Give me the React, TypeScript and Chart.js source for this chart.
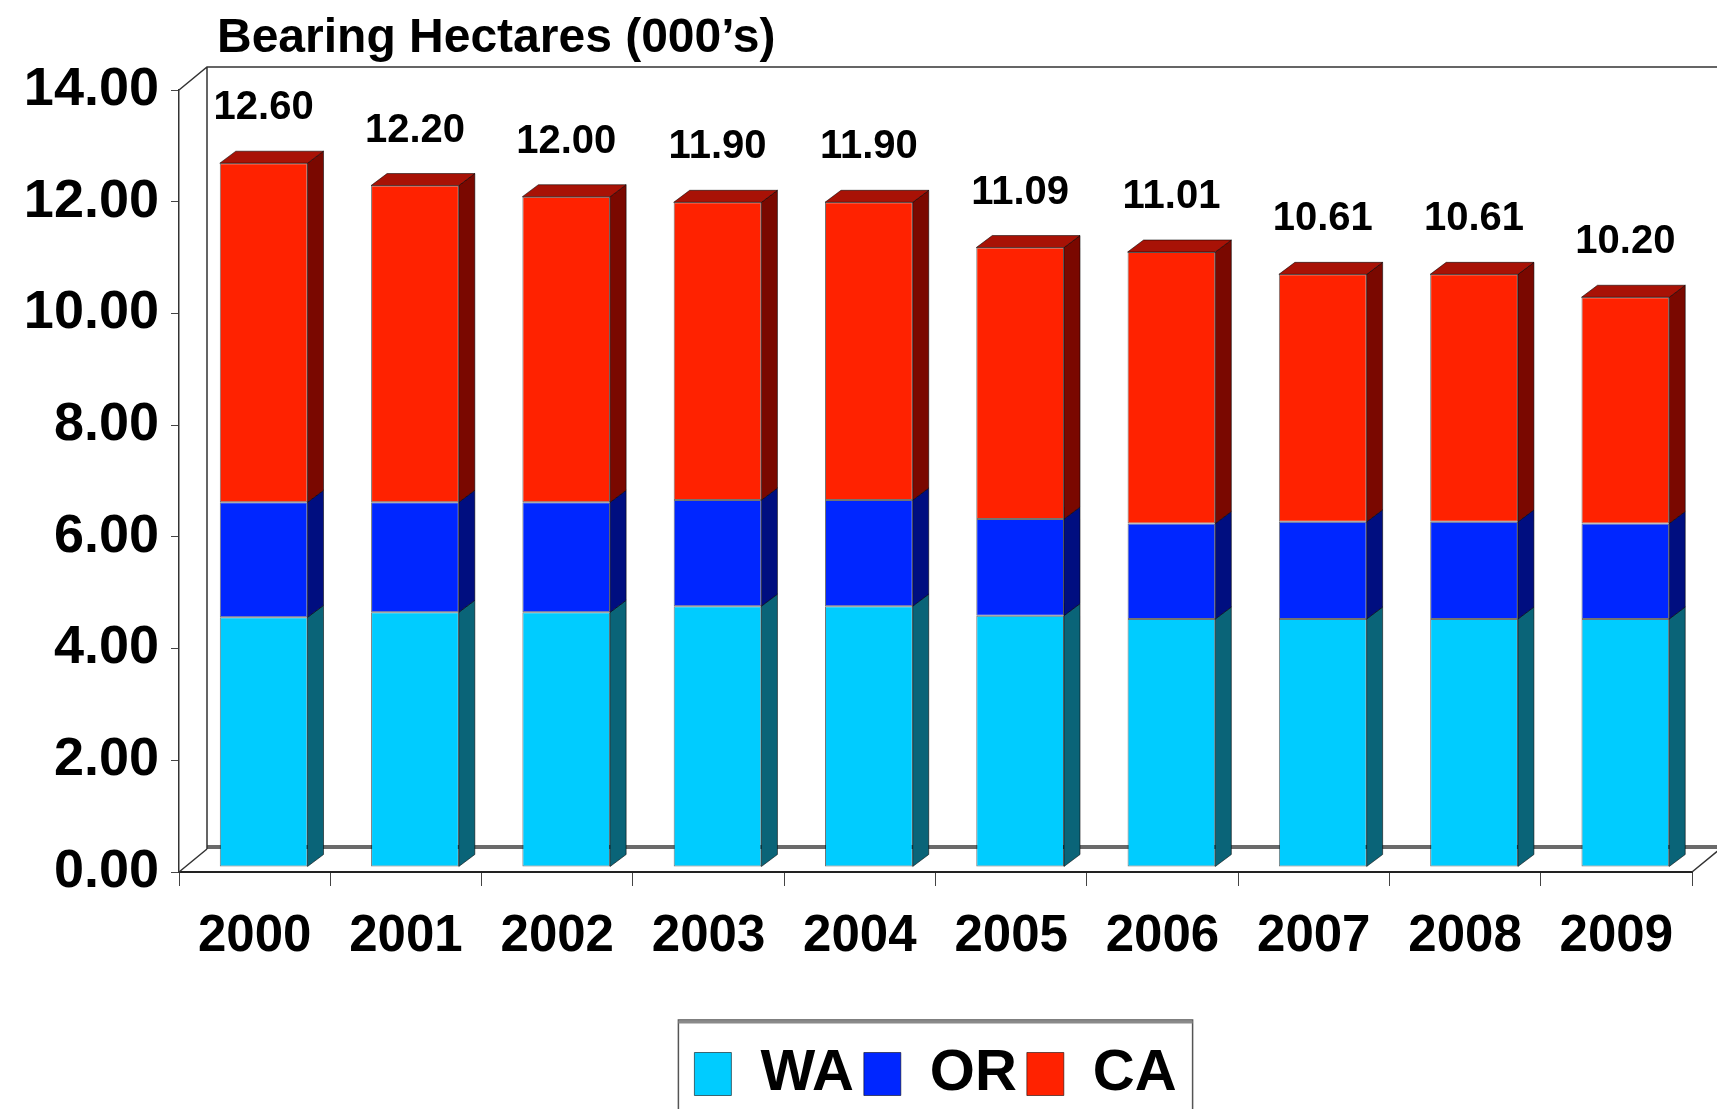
import React, { useEffect, useRef } from "react";
import { Chart, registerables } from "chart.js";

Chart.register(...registerables);

// ---- data ----
const YEARS = ["2000", "2001", "2002", "2003", "2004", "2005", "2006", "2007", "2008", "2009"];
const WA = [4.47, 4.56, 4.56, 4.67, 4.67, 4.5, 4.44, 4.44, 4.44, 4.44];
const OR = [2.06, 1.97, 1.97, 1.9, 1.9, 1.73, 1.71, 1.74, 1.74, 1.71];
const CA = [6.07, 5.67, 5.47, 5.33, 5.33, 4.86, 4.86, 4.43, 4.43, 4.05];
const Y_MIN = 0;
const Y_MAX = 14;
const Y_STEP = 2;
const TITLE = "Bearing Hectares (000\u2019s)";

const W = 1717;
const H_CANVAS = 1113;
const SANS = "'Liberation Sans', Arial, sans-serif";

const FRONT = ["#00CCFF", "#0026FF", "#FF2200"];
const SIDE = ["#0A6478", "#000E80", "#7A0800"];
const TOP = ["#0FA0C8", "#0018B0", "#A81206"];

const DX = 16, DY = -12; // bar depth
const SHIFT_X = 9, SHIFT_Y = -5; // bars sit inside the floor depth
const BACK_DX = 28, BACK_DY = -23; // back wall offset

const frame3d = {
  id: "frame3d",
  beforeDatasetsDraw(chart: any) {
    const { ctx, chartArea: a } = chart;
    ctx.save();
    ctx.strokeStyle = "#6a6a6a";
    ctx.lineWidth = 4;
    ctx.beginPath();
    ctx.moveTo(a.left + BACK_DX, a.bottom + BACK_DY - 2);
    ctx.lineTo(a.right + BACK_DX, a.bottom + BACK_DY - 2);
    ctx.stroke();
    ctx.strokeStyle = "#333";
    ctx.lineWidth = 1.5;
    ctx.beginPath();
    ctx.moveTo(a.left, a.top);
    ctx.lineTo(a.left + BACK_DX, a.top + BACK_DY);
    ctx.lineTo(W + 5, a.top + BACK_DY);
    ctx.moveTo(a.left + BACK_DX, a.top + BACK_DY);
    ctx.lineTo(a.left + BACK_DX, a.bottom + BACK_DY);
    ctx.moveTo(a.left, a.bottom);
    ctx.lineTo(a.left + BACK_DX, a.bottom + BACK_DY);
    ctx.moveTo(a.right, a.bottom);
    ctx.lineTo(a.right + BACK_DX, a.bottom + BACK_DY);
    ctx.stroke();
    ctx.restore();
    ctx.save();
    ctx.translate(SHIFT_X, SHIFT_Y);
  },
  afterDatasetsDraw(chart: any) {
    const { ctx } = chart;
    const n = chart.data.labels.length;
    const nds = chart.data.datasets.length;
    ctx.lineWidth = 1;
    ctx.strokeStyle = "rgba(0,0,0,0.55)";
    for (let d = 0; d < nds; d++) {
      const meta = chart.getDatasetMeta(d);
      meta.data.forEach((el: any) => {
        const { x, y, base, width } = el.getProps(["x", "y", "base", "width"], true);
        const r = x + width / 2;
        const l = x - width / 2;
        ctx.fillStyle = SIDE[d];
        ctx.beginPath();
        ctx.moveTo(r, base);
        ctx.lineTo(r, y);
        ctx.lineTo(r + DX, y + DY);
        ctx.lineTo(r + DX, base + DY);
        ctx.closePath();
        ctx.fill();
        ctx.stroke();
        if (d === nds - 1) {
          ctx.fillStyle = TOP[d];
          ctx.beginPath();
          ctx.moveTo(l, y);
          ctx.lineTo(l + DX, y + DY);
          ctx.lineTo(r + DX, y + DY);
          ctx.lineTo(r, y);
          ctx.closePath();
          ctx.fill();
          ctx.stroke();
        }
      });
    }
    const topMeta = chart.getDatasetMeta(nds - 1);
    ctx.fillStyle = "#000";
    ctx.font = `bold 40px ${SANS}`;
    ctx.textAlign = "center";
    ctx.textBaseline = "middle";
    for (let i = 0; i < n; i++) {
      let total = 0;
      chart.data.datasets.forEach((ds: any) => (total += ds.data[i]));
      const el = topMeta.data[i];
      const { x, y } = el.getProps(["x", "y"], true);
      ctx.fillText(total.toFixed(2), x, y - 55);
    }
    ctx.restore();
  },
  afterDraw(chart: any) {
    const { ctx } = chart;
    ctx.save();
    ctx.fillStyle = "#000";
    ctx.font = `bold 48px ${SANS}`;
    ctx.textAlign = "left";
    ctx.textBaseline = "alphabetic";
    ctx.fillText(TITLE, 217, 52);
    const lg = chart.legend;
    if (lg && lg.legendHitBoxes && lg.legendHitBoxes.length) {
      const hb = lg.legendHitBoxes;
      const left = hb[0].left - 16;
      const last = hb[hb.length - 1];
      const right = last.left + last.width + 16;
      const top = lg.top - 15;
      ctx.strokeStyle = "#555";
      ctx.lineWidth = 1.5;
      ctx.strokeRect(left, top, right - left, H_CANVAS + 20 - top);
      ctx.strokeStyle = "#8a8a8a";
      ctx.lineWidth = 3;
      ctx.beginPath();
      ctx.moveTo(left, top + 2);
      ctx.lineTo(right, top + 2);
      ctx.stroke();
    }
    ctx.restore();
  },
};

export default function App() {
  const ref = useRef<HTMLCanvasElement>(null);
  useEffect(() => {
    document.body.style.margin = "0";
    const names = ["WA", "OR", "CA"];
    const series = [WA, OR, CA];
    const chart = new Chart(ref.current as HTMLCanvasElement, {
      type: "bar",
      data: {
        labels: YEARS,
        datasets: series.map((s, i) => ({
          label: names[i],
          data: s,
          backgroundColor: FRONT[i],
          borderColor: "rgba(0,0,0,0.55)",
          borderWidth: 1,
          borderSkipped: false,
          categoryPercentage: 1,
          barPercentage: 0.58,
        })),
      },
      options: {
        animation: false,
        responsive: false,
        devicePixelRatio: 1,
        layout: { padding: { top: 90, right: 25, left: 0, bottom: 0 } },
        plugins: {
          tooltip: { enabled: false },
          title: { display: false },
          legend: {
            position: "bottom",
            fullSize: false,
            labels: {
              boxWidth: 37,
              boxHeight: 43,
              padding: 10,
              color: "#000",
              font: { family: SANS, size: 58, weight: "bold" },
            },
          },
        },
        scales: {
          x: {
            stacked: true,
            grid: { drawOnChartArea: false, drawTicks: true, tickLength: 14, color: "#444" },
            border: { display: true, color: "#222", width: 2 },
            ticks: { color: "#000", padding: 20, font: { family: SANS, size: 51, weight: "bold" } },
            afterFit: (s: any) => {
              s.height = 163;
            },
          },
          y: {
            stacked: true,
            min: Y_MIN,
            max: Y_MAX,
            grid: { drawOnChartArea: false, drawTicks: true, tickLength: 8, color: "#444" },
            border: { display: true, color: "#333", width: 1.5 },
            ticks: {
              stepSize: Y_STEP,
              color: "#000",
              padding: 12,
              font: { family: SANS, size: 54, weight: "bold" },
              callback: (v: any) => Number(v).toFixed(2),
            },
            afterFit: (s: any) => {
              s.width = 179;
            },
          },
        },
      },
      plugins: [frame3d],
    });
    return () => chart.destroy();
  }, []);
  return (
    <div style={{ width: W, height: 1109, overflow: "hidden", background: "#fff" }}>
      <canvas ref={ref} width={W} height={H_CANVAS} style={{ display: "block" }} />
    </div>
  );
}
